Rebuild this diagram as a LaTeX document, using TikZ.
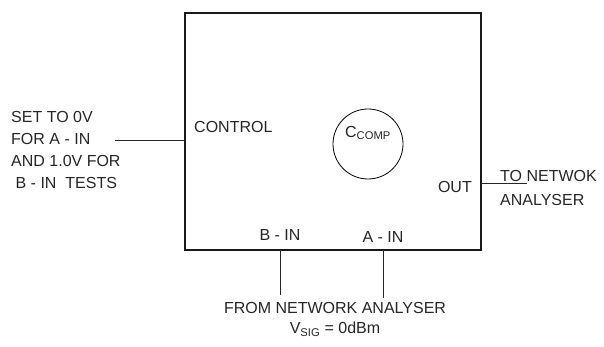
\documentclass[tikz,border=0pt]{standalone}
\usepackage{fontspec}
\setmainfont{Liberation Sans}
\begin{document}
\begin{tikzpicture}[x=1pt,y=-1pt,
  lbl/.style={inner sep=0pt,text=black!85,font=\fontsize{16}{22}\selectfont},
  wire/.style={line width=1pt,draw=black!85},
  boxst/.style={line width=2pt,draw=black!90}]
\useasboundingbox (0,0) rectangle (604,347);
\coordinate (bnw) at (184.5,13.5);
\coordinate (bse) at (480.5,250);
\draw[boxst] (bnw) rectangle (bse);
\node[draw,circle,line width=0.8pt,minimum size=70pt,inner sep=0pt] (cc) at (368,144) {};
\node[lbl] (ccl) at (368,133) {C\textsubscript{COMP}};
\node[lbl,anchor=west] (ctl) at (194,127) {CONTROL};
\node[lbl,anchor=east] (out) at (472,187) {OUT};
\node[lbl] (bin) at (280,235) {B - IN};
\node[lbl] (ain) at (383,237) {A - IN};
% left
\coordinate (lc) at (184.5,141);
\coordinate (le) at (115,141);
\draw[wire] (le) -- (lc);
\node[lbl,anchor=west,align=left] (set) at (11,150) {SET TO 0V\\FOR A - IN\\AND 1.0V FOR\\\ B - IN\ \ TESTS};
% right
\coordinate (rc) at (480.5,184);
\coordinate (re) at (527,184);
\draw[wire] (rc) -- (re);
\node[lbl,anchor=west,align=left,font=\fontsize{16}{24}\selectfont] (tna) at (500,187.5) {TO NETWOK\\ANALYSER};
% bottom
\coordinate (bb) at (280,250);
\coordinate (bbe) at (280,295);
\coordinate (ab) at (383,250);
\coordinate (abe) at (383,298);
\draw[wire] (bb) -- (bbe);
\draw[wire] (ab) -- (abe);
\node[lbl] (fna) at (335,308) {FROM NETWORK ANALYSER};
\node[lbl] (vsig) at (335,329) {V\textsubscript{SIG} = 0dBm};
\end{tikzpicture}
\end{document}
